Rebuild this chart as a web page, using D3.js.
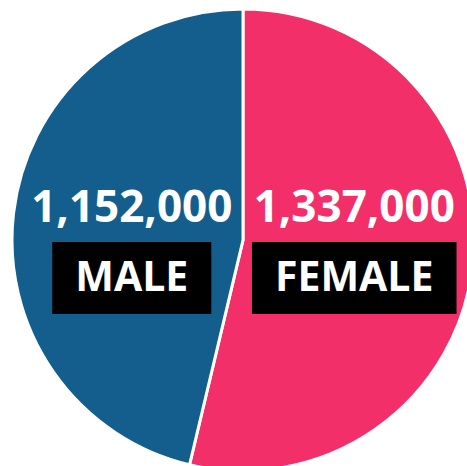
<!DOCTYPE html>
<html><head><meta charset="utf-8">
<script src="https://cdn.jsdelivr.net/npm/d3@7"></script>
<style>html,body{margin:0;padding:0;background:#fff;overflow:hidden}</style>
</head><body>
<svg id="chart" width="467" height="466"></svg>
<script>
const categories = ["FEMALE", "MALE"];
const values = [1337000, 1152000];
const colors = ["#F22F68", "#135E8C"];

const svg = d3.select("#chart");
const cx = 243, cy = 240, r = 231;
const g = svg.append("g").attr("transform", `translate(${cx},${cy})`);
const data = categories.map((c, i) => ({cat: c, value: values[i], color: colors[i]}));
const pie = d3.pie().value(d => d.value).sort(null);
const arc = d3.arc().innerRadius(0).outerRadius(r);
const labelArc = d3.arc().innerRadius(0).outerRadius(224);
const arcs = pie(data);

g.selectAll("path").data(arcs).join("path")
  .attr("d", arc).attr("fill", d => d.data.color)
  .attr("stroke", "#fff").attr("stroke-width", 3);

const fmt = d3.format(",");
arcs.forEach(a => {
  const x = labelArc.centroid(a)[0];
  g.append("text").attr("x", x).attr("y", -18)
    .attr("text-anchor", "middle")
    .attr("font-family", "Open Sans").attr("font-weight", 700)
    .attr("font-size", 44).attr("fill", "#fff")
    .text(fmt(a.data.value));
  const t = g.append("text").attr("x", x).attr("y", 51)
    .attr("text-anchor", "middle")
    .attr("font-family", "Open Sans").attr("font-weight", 700)
    .attr("font-size", 41).attr("fill", "#fff")
    .text(a.data.cat);
  const bb = t.node().getBBox();
  g.insert("rect", function(){ return t.node(); })
    .attr("x", bb.x - 23).attr("y", 2).attr("width", bb.width + 46).attr("height", 72)
    .attr("fill", "#000");
});
</script>
</body></html>
